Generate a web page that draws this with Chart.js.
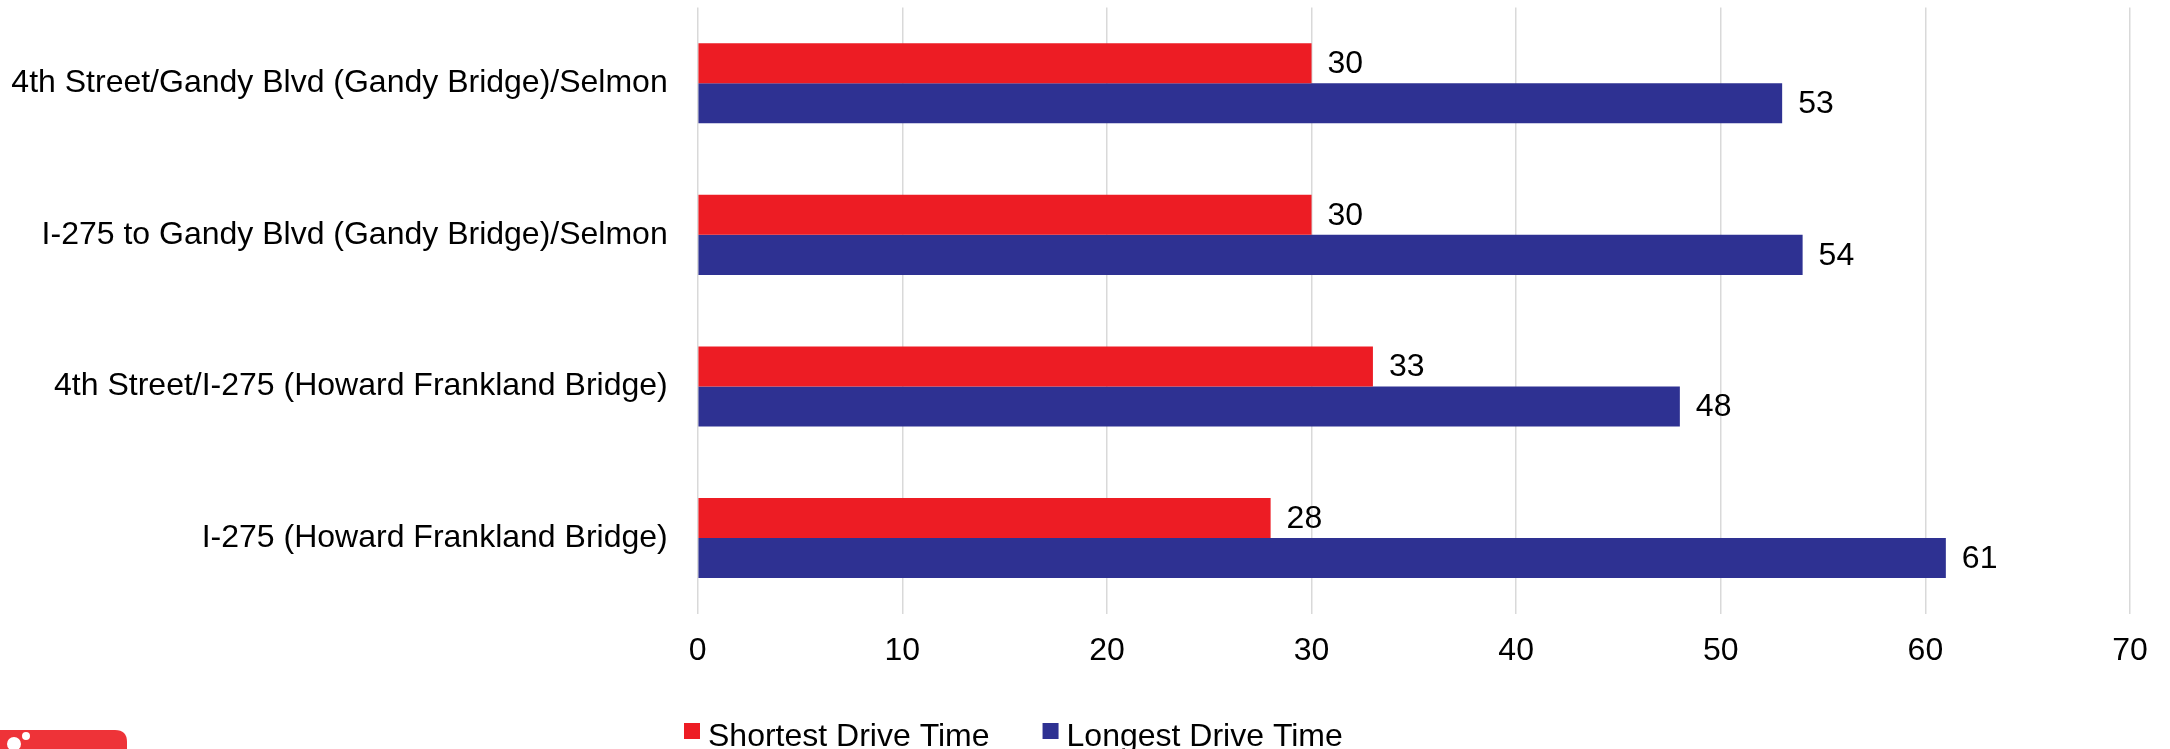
<!DOCTYPE html>
<html>
<head>
<meta charset="utf-8">
<script src="https://cdn.jsdelivr.net/npm/chart.js@4/dist/chart.umd.min.js"></script>
<style>
	html, body { margin: 0; padding: 0; background: #fff; }
	#wrap { position: relative; width: 2170px; height: 749px; overflow: hidden; }
</style>
</head>
<body>
<div id="wrap"><canvas id="chart" width="2170" height="749"></canvas></div>
<script>
'use strict';

// routes, top to bottom
var routes = [
	'4th Street/Gandy Blvd (Gandy Bridge)/Selmon',
	'I-275 to Gandy Blvd (Gandy Bridge)/Selmon',
	'4th Street/I-275 (Howard Frankland Bridge)',
	'I-275 (Howard Frankland Bridge)'
];
var shortestTimes = [30, 30, 33, 28];
var longestTimes = [53, 54, 48, 61];
var seriesNames = ['Shortest Drive Time', 'Longest Drive Time'];
var seriesColors = ['#ED1C24', '#2E3192'];
var xTicks = [0, 10, 20, 30, 40, 50, 60, 70];

var FONT = 'Liberation Sans, Arial, Helvetica, sans-serif';

Chart.defaults.font.family = FONT;
Chart.defaults.font.size = 32;
Chart.defaults.color = '#000';

/**
 * Writes the value at the end of every bar
 */
var valueLabels = {
	id: 'valueLabels',
	afterDatasetsDraw: function (chart) {
		var ctx = chart.ctx;
		ctx.save();
		ctx.font = '32px ' + FONT;
		ctx.fillStyle = '#000';
		ctx.textAlign = 'left';
		ctx.textBaseline = 'middle';
		chart.data.datasets.forEach(function (ds, i) {
			chart.getDatasetMeta(i).data.forEach(function (bar, j) {
				ctx.fillText(String(ds.data[j]), bar.x + 16, bar.y + 1);
			});
		});
		ctx.restore();
	}
};

/**
 * Legend under the plot, squares close to the text like the source sheet
 */
var bottomLegend = {
	id: 'bottomLegend',
	afterDraw: function (chart) {
		var ctx = chart.ctx,
			x = 684,
			boxTop = 723,
			baseline = 746;
		ctx.save();
		ctx.font = '32px ' + FONT;
		ctx.textBaseline = 'alphabetic';
		ctx.textAlign = 'left';
		chart.data.datasets.forEach(function (ds) {
			ctx.fillStyle = ds.backgroundColor;
			ctx.fillRect(x, boxTop, 16, 16);
			ctx.fillStyle = '#000';
			ctx.fillText(ds.label, x + 24, baseline);
			x += 24 + ctx.measureText(ds.label).width + 53;
		});

		// red badge cut off in the lower left corner
		ctx.fillStyle = '#EE3338';
		ctx.beginPath();
		ctx.moveTo(0, 730);
		ctx.lineTo(115, 730);
		ctx.quadraticCurveTo(127, 730, 127, 742);
		ctx.lineTo(127, 749);
		ctx.lineTo(0, 749);
		ctx.closePath();
		ctx.fill();
		ctx.fillStyle = '#fff';
		ctx.beginPath();
		ctx.arc(14, 744, 7, 0, Math.PI * 2);
		ctx.arc(26, 736, 4, 0, Math.PI * 2);
		ctx.fill();
		ctx.restore();
	}
};

new Chart(document.getElementById('chart'), {
	type: 'bar',
	data: {
		labels: routes,
		datasets: [{
			label: seriesNames[0],
			data: shortestTimes,
			backgroundColor: seriesColors[0],
			borderWidth: 0
		}, {
			label: seriesNames[1],
			data: longestTimes,
			backgroundColor: seriesColors[1],
			borderWidth: 0
		}]
	},
	options: {
		indexAxis: 'y',
		responsive: false,
		animation: false,
		devicePixelRatio: 1,
		layout: {
			padding: { top: 7.5, right: 40, bottom: 0, left: 0 }
		},
		datasets: {
			bar: {
				categoryPercentage: 0.528,
				barPercentage: 1.0
			}
		},
		scales: {
			x: {
				min: xTicks[0],
				max: xTicks[xTicks.length - 1],
				afterBuildTicks: function (scale) {
					scale.ticks = xTicks.map(function (v) { return { value: v }; });
				},
				afterFit: function (scale) {
					scale.height = 135.2;
				},
				grid: {
					color: '#d9d9d9',
					lineWidth: 1.5,
					drawTicks: false
				},
				border: { display: false },
				ticks: {
					padding: 18,
					color: '#000',
					font: { size: 32 }
				}
			},
			y: {
				afterFit: function (scale) {
					// fixed label column, no extra room above/below the bars
					scale.width = 697.7;
					scale.paddingTop = 0;
					scale.paddingBottom = 0;
				},
				grid: { display: false, drawTicks: false },
				border: { display: false },
				ticks: {
					padding: 30,
					color: '#000',
					font: { size: 32 }
				}
			}
		},
		plugins: {
			legend: { display: false },
			tooltip: { enabled: false }
		}
	},
	plugins: [valueLabels, bottomLegend]
});
</script>
</body>
</html>
